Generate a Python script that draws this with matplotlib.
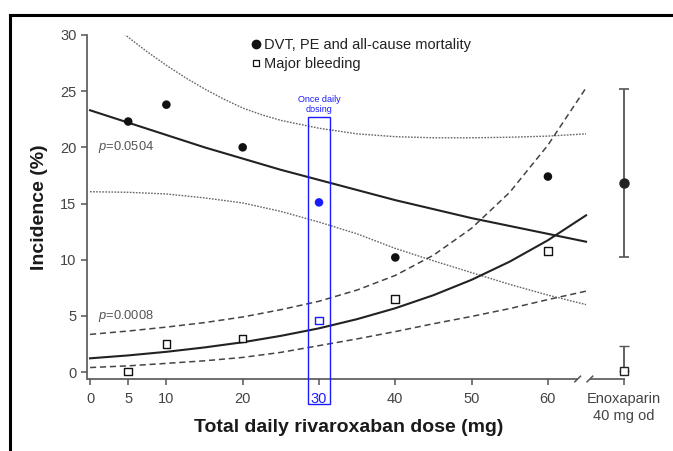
import matplotlib
matplotlib.use('Agg')
import matplotlib.pyplot as plt
from matplotlib.lines import Line2D
from matplotlib.patches import Rectangle

plt.rcParams['font.family'] = ['Liberation Sans', 'DejaVu Sans']
plt.rcParams['mathtext.fontset'] = 'custom'
plt.rcParams['mathtext.it'] = 'Liberation Sans:italic'
plt.rcParams['mathtext.rm'] = 'Liberation Sans'

# ---- data ----
dose = [5, 10, 20, 30, 40, 60]
dvt = [22.3, 23.8, 20.0, 15.1, 10.2, 17.4]
bleed = [0.05, 2.5, 3.0, 4.6, 6.5, 10.8]

enox_x = 70
enox_dvt = 16.8
enox_dvt_lo = 10.2
enox_dvt_hi = 25.2
enox_bleed = 0.1
enox_bleed_hi = 2.3

fit_x = [0, 5, 10, 15, 20, 25, 30, 35, 40, 45, 50, 55, 60, 65]
dvt_fit = [23.3, 22.2, 21.1, 20.0, 19.0, 18.0, 17.1, 16.2, 15.3, 14.5, 13.7, 13.0, 12.3, 11.6]
dvt_lower = [16.05, 16.0, 15.85, 15.5, 15.05, 14.3, 13.35, 12.3, 11.0, 9.9, 8.85, 7.8, 6.85, 6.0]
bleed_fit = [1.22, 1.48, 1.80, 2.19, 2.65, 3.22, 3.89, 4.71, 5.68, 6.84, 8.21, 9.83, 11.73, 13.95]
bleed_upper = [3.35, 3.65, 4.0, 4.4, 4.9, 5.55, 6.3, 7.3, 8.6, 10.4, 12.8, 16.0, 20.2, 25.3]
bleed_lower = [0.4, 0.55, 0.77, 1.0, 1.3, 1.75, 2.35, 2.95, 3.6, 4.3, 4.95, 5.65, 6.45, 7.2]

upper_x = [0, 2.5, 5, 7.5, 10, 12.5, 15, 17.5, 20, 22.5, 25, 30, 35, 40, 45, 50, 55, 60, 65]
dvt_upper = [32.8, 31.3, 29.8, 28.5, 27.3, 26.2, 25.2, 24.3, 23.5, 22.9, 22.4, 21.7, 21.2,
             20.95, 20.85, 20.85, 20.9, 21.0, 21.2]

xticks = [0, 5, 10, 20, 30, 40, 50, 60, 70]
xticklabels = ['0', '5', '10', '20', '30', '40', '50', '60', 'Enoxaparin\n40 mg od']
yticks = [0, 5, 10, 15, 20, 25, 30]

once_daily_dose = 30
box_top = 22.66
box_bottom = -2.85
box_halfwidth = 1.4
p_dvt = 'p=0.0504'
p_bleed = 'p=0.0008'

# ---- figure ----
W, H = 673, 451
fig = plt.figure(figsize=(W / 100, H / 100), dpi=100)
ax = fig.add_axes([87 / W, 1 - 379 / H, (625 - 87) / W, (379 - 35) / H])
ax.set_xlim(-0.4, 70.1)
ax.set_ylim(-0.62, 30)

gray = '#444444'
blue = '#1a1aff'

# fitted curves and confidence bands
ax.plot(upper_x, dvt_upper, color='#666666', lw=1.0, ls=(0, (1.2, 1.0)))
ax.plot(fit_x, dvt_lower, color='#666666', lw=1.0, ls=(0, (1.2, 1.0)))
ax.plot(fit_x, dvt_fit, color='#222222', lw=1.5)
ax.plot(fit_x, bleed_upper, color='#444444', lw=1.1, ls=(0, (4, 2.5)))
ax.plot(fit_x, bleed_lower, color='#444444', lw=1.1, ls=(0, (4, 2.5)))
ax.plot(fit_x, bleed_fit, color='#222222', lw=1.5)

# data points
cols = [blue if d == once_daily_dose else '#111111' for d in dose]
ax.scatter(dose, dvt, s=38, c=cols, zorder=5, linewidths=0)
ax.scatter(dose, bleed, s=30, marker='s', facecolors='white', edgecolors=cols,
           linewidths=1.0, zorder=5, clip_on=False)

# enoxaparin
ax.errorbar([enox_x], [enox_dvt], yerr=[[enox_dvt - enox_dvt_lo], [enox_dvt_hi - enox_dvt]],
            fmt='o', ms=6.5, color='#222222', ecolor='#555555', elinewidth=1.3,
            capsize=3.5, capthick=1.2, zorder=5, clip_on=False)
ax.errorbar([enox_x], [enox_bleed], yerr=[[0], [enox_bleed_hi - enox_bleed]],
            fmt='s', ms=5.5, mfc='white', mec='#222222', mew=1.0,
            ecolor='#555555', elinewidth=1.3, capsize=3.5, capthick=1.2,
            zorder=5, clip_on=False)

# once daily box
ax.add_patch(Rectangle((once_daily_dose - box_halfwidth, box_bottom), 2 * box_halfwidth,
                       box_top - box_bottom, fill=False, ec=blue, lw=1.0, clip_on=False, zorder=6))
ax.text(once_daily_dose, box_top + 0.35, 'Once daily\ndosing', color=blue, fontsize=6.5,
        ha='center', va='bottom', linespacing=1.05)

# p values
ax.text(1.05, 20, r'$\it{p}$' + p_dvt[1:], fontsize=9.3, color='#555555', va='center', ha='left')
ax.text(1.05, 5, r'$\it{p}$' + p_bleed[1:], fontsize=9.3, color='#555555', va='center', ha='left')

# legend
h1 = Line2D([], [], ls='none', marker='o', ms=6, color='#111111')
h2 = Line2D([], [], ls='none', marker='s', ms=5, mfc='white', mec='#111111', mew=0.9)
ax.legend([h1, h2], ['DVT, PE and all-cause mortality', 'Major bleeding'],
          loc='upper left', bbox_to_anchor=((241 - 87) / (625 - 87), 1.02),
          frameon=False, fontsize=10.5, handlelength=0.6, handletextpad=0.25,
          labelspacing=0.3, borderpad=0.2, labelcolor='#222222')

# axes styling
for s in ['top', 'right', 'bottom']:
    ax.spines[s].set_visible(False)
ax.spines['left'].set_color('#555555')
ax.spines['left'].set_linewidth(1.2)
ax.set_yticks(yticks)
ax.set_xticks(xticks)
ax.set_xticklabels(xticklabels)
ax.tick_params(axis='both', colors='#555555', labelcolor=gray, labelsize=10.5,
               length=4.5, width=1.1)
ax.tick_params(axis='x', pad=5)
ax.tick_params(axis='y', pad=3)
for lab, t in zip(ax.get_xticklabels(), xticks):
    if t == once_daily_dose:
        lab.set_color(blue)
    if t == enox_x:
        lab.set_linespacing(1.25)
        lab.set_va('top')

# broken x axis line
y0 = ax.get_ylim()[0]
break_a, break_b = 63.9, 65.5
ax.plot([ax.get_xlim()[0], break_a], [y0, y0], color='#555555', lw=1.2, clip_on=False, solid_capstyle='butt')
ax.plot([break_b, ax.get_xlim()[1]], [y0, y0], color='#555555', lw=1.2, clip_on=False, solid_capstyle='butt')
for bx in (break_a, break_b):
    ax.plot([bx - 0.37, bx + 0.37], [y0 - 0.25, y0 + 0.25], color='#555555', lw=1.1, clip_on=False)

ax.set_xlabel('Total daily rivaroxaban dose (mg)', fontsize=14, fontweight='bold', color='#1a1a1a')
ax.xaxis.label.set_va('center')
ax.xaxis.set_label_coords((349 - 87) / (625 - 87), (379 - 427) / (379 - 35))
ax.set_ylabel('Incidence (%)', fontsize=14, fontweight='bold', color='#1a1a1a', labelpad=9)

# outer frame (top and left)
fig.add_artist(Line2D([9.5 / W, 1.0], [1 - 15 / H, 1 - 15 / H], color='black', lw=2.2, transform=fig.transFigure))
fig.add_artist(Line2D([9.5 / W, 9.5 / W], [0, 1 - 15 / H], color='black', lw=2.2, transform=fig.transFigure))

fig.savefig('out.png', dpi=100)
